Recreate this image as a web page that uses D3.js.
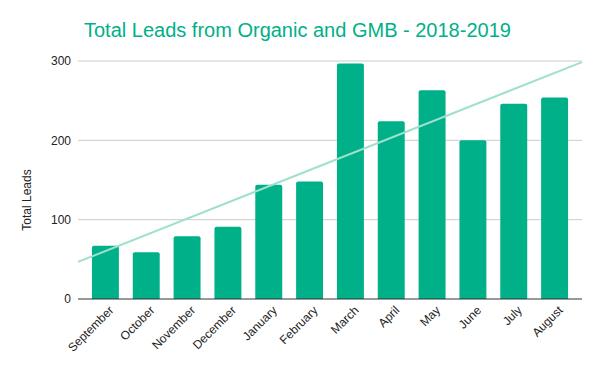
<!DOCTYPE html>
<html>
<head>
<meta charset="utf-8">
<script src="https://cdn.jsdelivr.net/npm/d3@7"></script>
<style>
  body { margin: 0; background: #fff; }
  text { font-family: Arial, "Liberation Sans", sans-serif; }
</style>
</head>
<body>
<div id="chart"></div>
<script>
// data
const months = ["September", "October", "November", "December", "January", "February",
                "March", "April", "May", "June", "July", "August"];
const leads = [67, 59, 79, 91, 144, 148, 297, 224, 263, 200, 246, 254];
const yTicks = [0, 100, 200, 300];

const width = 600, height = 371;
const margin = {top: 61, right: 18, bottom: 72, left: 78};
const innerW = width - margin.left - margin.right;
const innerH = height - margin.top - margin.bottom;
const barColor = "#00b088";

const svg = d3.select("#chart").append("svg")
    .attr("width", width)
    .attr("height", height);

const g = svg.append("g")
    .attr("transform", "translate(" + margin.left + "," + margin.top + ")");

const xScale = d3.scaleBand().domain(months).range([7, innerW - 7]).paddingInner(0.34).paddingOuter(0.17);
const yScale = d3.scaleLinear().domain([0, 300]).range([innerH, 0]);

// gridlines
g.append("g").attr("class", "grid")
    .selectAll("line")
    .data(yTicks.filter(d => d > 0))
    .join("line")
    .attr("x1", 0).attr("x2", innerW)
    .attr("y1", d => yScale(d)).attr("y2", d => yScale(d))
    .attr("stroke", "#cccccc").attr("stroke-width", 1);

// y axis labels
const yAxis = d3.axisLeft(yScale).tickValues(yTicks).tickSize(0).tickPadding(7);
g.append("g").attr("class", "yAxisG").call(yAxis)
    .call(s => s.select(".domain").remove())
    .selectAll("text")
    .attr("font-size", 12).attr("fill", "#222");

// bars
g.selectAll(".bar")
    .data(months)
    .join("path")
    .attr("class", "bar")
    .attr("fill", barColor)
    .attr("d", (m, i) => {
        const x0 = xScale(m), w = xScale.bandwidth();
        const y0 = yScale(leads[i]), y1 = yScale(0), r = 2;
        return "M" + x0 + "," + y1 + "V" + (y0 + r) + "Q" + x0 + "," + y0 + " " + (x0 + r) + "," + y0 +
            "H" + (x0 + w - r) + "Q" + (x0 + w) + "," + y0 + " " + (x0 + w) + "," + (y0 + r) + "V" + y1 + "Z";
    });

// linear trendline from least squares over the bars
const xs = months.map((m, i) => i);
const meanX = d3.mean(xs), meanY = d3.mean(leads);
const slope = d3.sum(xs, (x, i) => (x - meanX) * (leads[i] - meanY)) / d3.sum(xs, x => (x - meanX) ** 2);
const step = xScale.step();
const center0 = xScale(months[0]) + xScale.bandwidth() / 2;
const trendAt = px => meanY + slope * ((px - center0) / step - meanX);
g.append("line")
    .attr("x1", 0).attr("y1", yScale(trendAt(0)))
    .attr("x2", innerW).attr("y2", yScale(trendAt(innerW)))
    .attr("stroke", "#9fe0cc").attr("stroke-width", 2);

// baseline
g.append("line")
    .attr("x1", 0).attr("x2", innerW)
    .attr("y1", yScale(0)).attr("y2", yScale(0))
    .attr("stroke", "#333").attr("stroke-width", 1);

// x axis labels
const xAxisG = g.append("g").attr("class", "xAxisG")
    .attr("transform", "translate(0," + innerH + ")");
xAxisG.selectAll("text")
    .data(months)
    .join("text")
    .attr("transform", m => "translate(" + (xScale(m) + xScale.bandwidth() / 2 + 6) + ",9) rotate(-45)")
    .attr("text-anchor", "end")
    .attr("dy", "0.35em")
    .attr("font-size", 12)
    .attr("fill", "#222")
    .text(m => m);

// y axis title
svg.append("text")
    .attr("transform", "translate(31,200) rotate(-90)")
    .attr("text-anchor", "middle")
    .attr("font-size", 12)
    .attr("fill", "#222")
    .text("Total Leads");

// chart title
svg.append("text")
    .attr("x", 84).attr("y", 37)
    .attr("font-size", 20)
    .attr("fill", barColor)
    .text("Total Leads from Organic and GMB - 2018-2019");
</script>
</body>
</html>
